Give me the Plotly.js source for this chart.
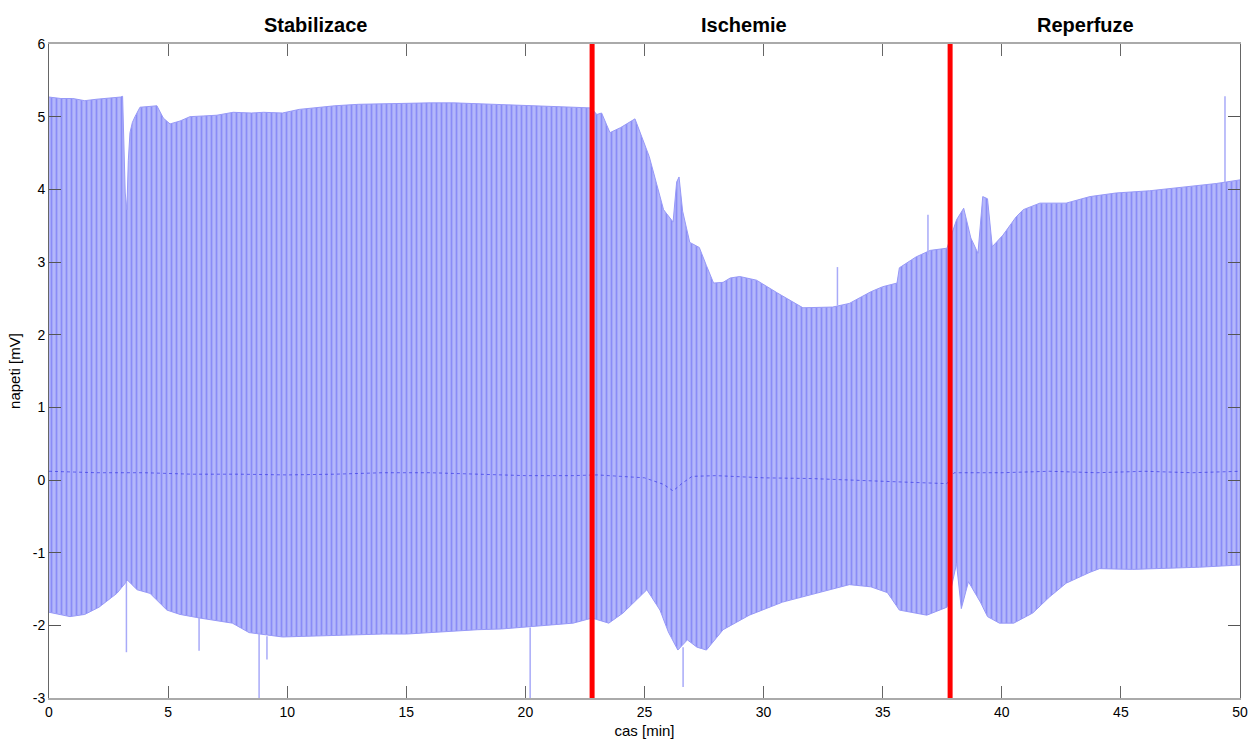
<!DOCTYPE html>
<html>
<head>
<meta charset="utf-8">
<script src="https://cdn.plot.ly/plotly-3.0.1.min.js"></script>
<style>
html,body{margin:0;padding:0;background:#fff;}
#chart{width:1253px;height:740px;}
</style>
</head>
<body>
<div id="chart"></div>
<script>
// Upper envelope of the ECG signal (time [min], voltage [mV])
const upperX = [0,0.5,1.0,1.5,2.0,2.5,3.0,3.09,3.12,3.2,3.27,3.33,3.4,3.5,3.61,3.82,4.2,4.53,4.8,5.08,5.5,5.92,6.5,7.05,7.73,8.5,9.0,9.8,10.5,11,12,13,14,15,16,17,18,19,20,21,22,22.75,23.0,23.2,23.55,24.0,24.6,25.2,25.8,26.2,26.35,26.45,26.6,26.9,27.3,27.6,27.9,28.3,28.6,29.0,29.7,30.6,31.65,32.9,33.6,34.5,35.0,35.6,35.7,36.4,37.0,37.7,38.1,38.4,38.7,39.0,39.2,39.4,39.6,40.05,40.6,40.9,41.6,42.7,43.7,44.8,46.2,47.6,49.0,50];
const upperY = [5.27,5.25,5.25,5.22,5.24,5.25,5.27,5.28,4.88,3.95,3.72,4.4,4.78,4.92,5.0,5.13,5.14,5.15,4.98,4.9,4.94,5.0,5.01,5.02,5.06,5.05,5.06,5.05,5.1,5.12,5.15,5.17,5.18,5.19,5.19,5.19,5.18,5.17,5.16,5.14,5.13,5.12,5.03,5.05,4.78,4.85,4.97,4.45,3.72,3.55,4.1,4.17,3.7,3.27,3.2,2.95,2.71,2.72,2.78,2.8,2.75,2.57,2.37,2.38,2.43,2.59,2.66,2.71,2.92,3.07,3.16,3.19,3.58,3.74,3.33,3.12,3.9,3.87,3.21,3.37,3.62,3.72,3.81,3.81,3.9,3.95,3.98,4.03,4.08,4.13];
// Lower envelope
const lowerX = [0,0.88,1.5,2.1,2.85,3.3,3.7,4.24,4.95,5.5,6.34,7.7,8.4,9.8,11,12,13,14,15,16,17,18,19,20,21,22,22.8,23.5,24.1,25.1,25.65,26.0,26.4,26.8,27.2,27.6,28.3,29.4,30.8,32.2,33.6,34.5,35.2,35.7,36.85,37.7,38.1,38.3,38.6,39.1,39.4,39.9,40.5,41.3,42.0,42.7,43.7,44.1,45.5,46.9,48.3,50];
const lowerY = [-1.82,-1.88,-1.85,-1.75,-1.56,-1.38,-1.51,-1.56,-1.79,-1.85,-1.9,-1.97,-2.1,-2.16,-2.15,-2.14,-2.13,-2.12,-2.12,-2.1,-2.08,-2.06,-2.05,-2.03,-2.0,-1.97,-1.9,-1.97,-1.83,-1.51,-1.79,-2.09,-2.34,-2.2,-2.3,-2.34,-2.06,-1.86,-1.68,-1.56,-1.44,-1.47,-1.55,-1.79,-1.86,-1.75,-1.15,-1.77,-1.4,-1.68,-1.88,-1.97,-1.97,-1.83,-1.61,-1.42,-1.27,-1.22,-1.23,-1.22,-1.2,-1.17];
// Isolated spikes outside the envelope
const spikeX    = [3.25,6.3,8.82,9.15,20.2,26.62,33.1,36.9,49.37];
const spikeFrom = [-1.4,-1.9,-2.1,-2.15,-2.03,-2.3,2.4,3.1,4.1];
const spikeTo   = [-2.37,-2.35,-3.0,-2.47,-3.0,-2.85,2.93,3.65,5.28];
// Isoelectric baseline
const baseX = [0,2,4,6,8,10,12,14,16,18,20,22,23,24,25,25.8,26.2,26.6,27,28,30,32,34,36,37.7,38,40,42,44,46,48,50];
const baseY = [0.12,0.1,0.1,0.08,0.08,0.07,0.08,0.1,0.1,0.08,0.06,0.06,0.07,0.05,0.03,-0.06,-0.15,-0.04,0.05,0.06,0.03,0.02,0.0,-0.03,-0.05,0.1,0.1,0.12,0.1,0.12,0.1,0.12];
// Phase boundaries and labels
const boundaries = [22.8, 37.83];
const phaseNames = ["Stabilizace","Ischemie","Reperfuze"];
const phaseCenters = [11.19, 29.18, 43.53];
const xTicks = [0,5,10,15,20,25,30,35,40,45,50];
const yTicks = [-3,-2,-1,0,1,2,3,4,5,6];

const font = "Liberation Sans, Arial, Helvetica, sans-serif";

const envX = upperX.concat(lowerX.slice().reverse());
const envY = upperY.concat(lowerY.slice().reverse());

const sx = [], sy = [];
spikeX.forEach((x,i)=>{ sx.push(x,x,null); sy.push(spikeFrom[i], spikeTo[i], null); });

const traces = [
  {x: envX, y: envY, type:'scatter', mode:'lines', fill:'toself',
   fillcolor:'#b0b3fa',
   fillpattern:{shape:'|', size:5, solidity:0.35, bgcolor:'#b4b7fb', fgcolor:'#8a8cf6'},
   line:{color:'#9799f7', width:1}, hoverinfo:'skip', showlegend:false},
  {x: sx, y: sy, type:'scatter', mode:'lines', line:{color:'#a8aaf8', width:1.5},
   connectgaps:false, hoverinfo:'skip', showlegend:false},
  {x: baseX, y: baseY, type:'scatter', mode:'lines',
   line:{color:'rgba(40,40,225,0.6)', width:1, dash:'dot'}, hoverinfo:'skip', showlegend:false}
];
boundaries.forEach(b=>{
  traces.push({x:[b,b], y:[-3,6], type:'scatter', mode:'lines',
    line:{color:'#ff0000', width:5}, hoverinfo:'skip', showlegend:false});
});

const annotations = phaseNames.map((t,i)=>({
  text:'<b>'+t+'</b>', x: phaseCenters[i], xref:'x', y:1, yref:'paper',
  yanchor:'bottom', xanchor:'center', yshift:6, showarrow:false,
  font:{family:font, size:20, color:'#000'}
}));

const layout = {
  width:1253, height:740,
  margin:{l:49, r:13, t:44, b:42},
  paper_bgcolor:'#fff', plot_bgcolor:'#fff',
  showlegend:false,
  xaxis:{range:[0,50], tickvals:xTicks, ticktext:xTicks.map(String),
    ticks:'inside', ticklen:12, tickcolor:'#666', tickwidth:1,
    showline:true, linecolor:'#aaaaaa', linewidth:2, mirror:'ticks',
    showgrid:false, zeroline:false,
    tickfont:{family:font, size:14, color:'#000'},
    title:{text:'cas [min]', font:{family:font, size:15, color:'#000'}, standoff:7}},
  yaxis:{range:[-3,6], tickvals:yTicks, ticktext:yTicks.map(String),
    ticks:'inside', ticklen:12, tickcolor:'#555', tickwidth:1,
    showline:true, linecolor:'#666666', linewidth:1, mirror:'ticks',
    showgrid:false, zeroline:false,
    tickfont:{family:font, size:14, color:'#000'},
    title:{text:'napeti [mV]', font:{family:font, size:15, color:'#000'}, standoff:8}},
  annotations: annotations
};

Plotly.newPlot('chart', traces, layout, {displayModeBar:false, staticPlot:true});
</script>
</body>
</html>
